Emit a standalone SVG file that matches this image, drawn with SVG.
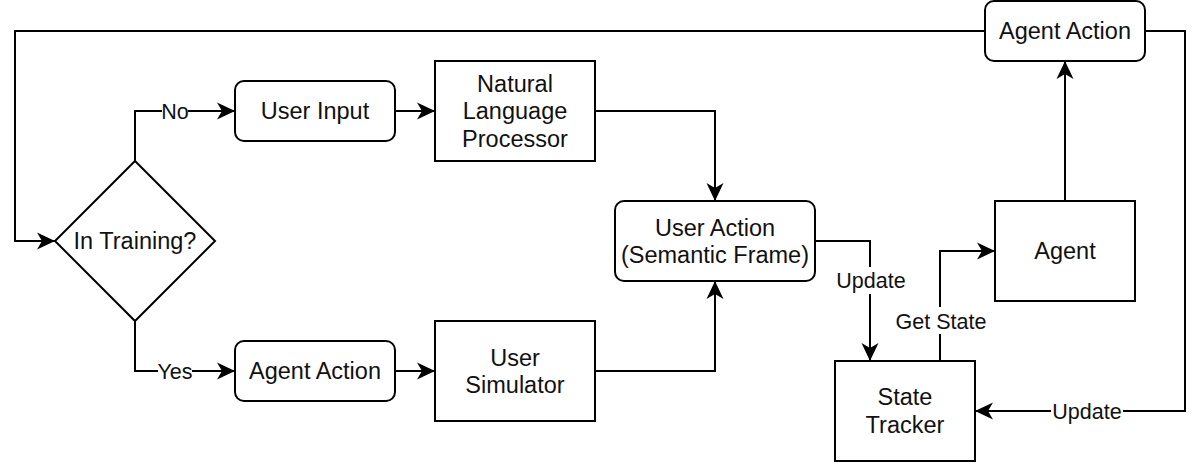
<svg xmlns="http://www.w3.org/2000/svg" width="1202" height="464" viewBox="0 0 1202 464">
<style>
.n{fill:#fff;stroke:#000;stroke-width:2}
.t{font-family:"Liberation Sans",Arial,sans-serif;font-size:23.5px;fill:#111;text-anchor:middle}
.l{font-family:"Liberation Sans",Arial,sans-serif;font-size:21.5px;fill:#111;text-anchor:middle}
.c{fill:none;stroke:#000;stroke-width:2}
.bg{fill:#fff}
</style>
<defs>
<marker id="arr" markerUnits="userSpaceOnUse" markerWidth="20" markerHeight="18" viewBox="0 0 20 18" refX="18" refY="9" orient="auto" overflow="visible">
<path d="M0,0.5 L18,9 L0,17.5 L5,9 Z" fill="#000"/>
</marker>
</defs>
<rect width="1202" height="464" fill="#fff"/>
<g id="connectors">
<path class="c" d="M985,31 H15 V241 H55" marker-end="url(#arr)"/>
<path class="c" d="M135,161 V111 H235" marker-end="url(#arr)"/>
<path class="c" d="M135,321 V371 H235" marker-end="url(#arr)"/>
<path class="c" d="M395,111 H435" marker-end="url(#arr)"/>
<path class="c" d="M595,111 H715 V201" marker-end="url(#arr)"/>
<path class="c" d="M395,371 H435" marker-end="url(#arr)"/>
<path class="c" d="M595,371 H715 V281" marker-end="url(#arr)"/>
<path class="c" d="M815,241 H870 V361" marker-end="url(#arr)"/>
<path class="c" d="M940,361 V251 H995" marker-end="url(#arr)"/>
<path class="c" d="M1065,201 V61" marker-end="url(#arr)"/>
<path class="c" d="M1145,31 H1185 V411 H975" marker-end="url(#arr)"/>
<rect class="bg" x="162" y="100" width="26" height="22"/>
<text class="l" x="175" y="118.5">No</text>
<rect class="bg" x="158" y="360" width="34" height="22"/>
<text class="l" x="175" y="378.5">Yes</text>
<rect class="bg" x="836" y="267" width="70" height="27"/>
<text class="l" x="871" y="287.5">Update</text>
<rect class="bg" x="895" y="307" width="92" height="27"/>
<text class="l" x="941" y="328.5">Get State</text>
<rect class="bg" x="1051" y="400" width="72" height="22"/>
<text class="l" x="1087" y="418.5">Update</text>
</g>
<g id="in-training">
<polygon class="n" points="135,161 215,241 135,321 55,241"/>
<text class="t" x="135" y="249">In Training?</text>
</g>
<g id="user-input">
<rect class="n" x="235" y="81" width="160" height="60" rx="9"/>
<text class="t" x="315" y="119">User Input</text>
</g>
<g id="nlp">
<rect class="n" x="435" y="61" width="160" height="100"/>
<text class="t" x="515" y="91.5">Natural</text>
<text class="t" x="515" y="119">Language</text>
<text class="t" x="515" y="146.5">Processor</text>
</g>
<g id="user-action">
<rect class="n" x="615" y="201" width="200" height="80" rx="9"/>
<text class="t" x="715" y="235.5">User Action</text>
<text class="t" x="715" y="263">(Semantic Frame)</text>
</g>
<g id="agent-action-sim">
<rect class="n" x="235" y="341" width="160" height="60" rx="9"/>
<text class="t" x="315" y="379">Agent Action</text>
</g>
<g id="user-simulator">
<rect class="n" x="435" y="321" width="160" height="100"/>
<text class="t" x="515" y="365.5">User</text>
<text class="t" x="515" y="393">Simulator</text>
</g>
<g id="agent">
<rect class="n" x="995" y="201" width="140" height="100"/>
<text class="t" x="1065" y="259">Agent</text>
</g>
<g id="state-tracker">
<rect class="n" x="835" y="361" width="140" height="100"/>
<text class="t" x="905" y="405">State</text>
<text class="t" x="905" y="433">Tracker</text>
</g>
<g id="agent-action-top">
<rect class="n" x="985" y="1" width="160" height="60" rx="9"/>
<text class="t" x="1065" y="39">Agent Action</text>
</g>
</svg>
